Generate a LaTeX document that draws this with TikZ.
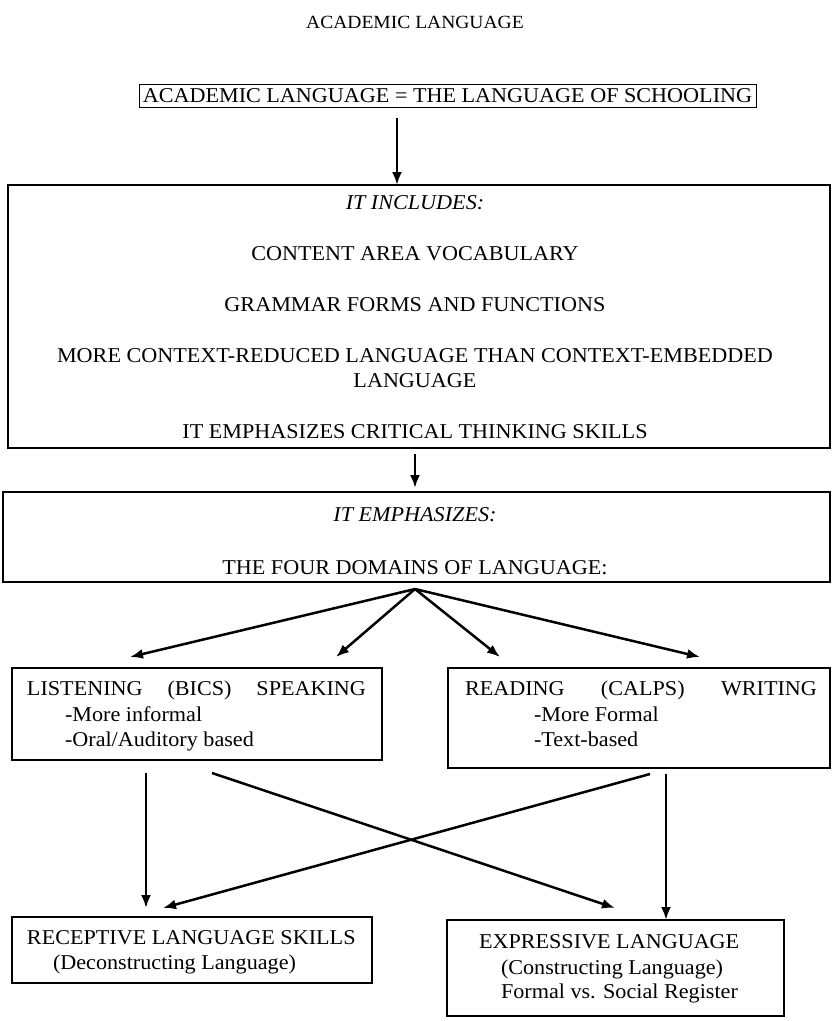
\documentclass[tikz,border=0pt]{standalone}
\usepackage{fontspec}
\setmainfont{Liberation Serif}[FakeStretch=1.05]
\usetikzlibrary{arrows.meta}
\begin{document}
\begin{tikzpicture}[x=1pt,y=-1pt,
  frame/.style={draw, line width=1.1pt, inner sep=0pt, outer sep=0pt, anchor=north west},
  lbl/.style={inner sep=0pt, outer sep=0pt, font=\fontsize{21.1}{25}\selectfont},
  arr/.style={line width=2.5pt, -{Latex[length=13pt,width=10pt]}}]
\useasboundingbox (0,0) rectangle (831,1021);
% title
\node[lbl, font=\fontsize{18.6}{22}\selectfont] (title) at (415,22) {ACADEMIC LANGUAGE};
% boxes
\node[frame, line width=0.9pt, minimum width=617pt, minimum height=23pt] (b1) at (139,84) {};
\node[frame, minimum width=822pt, minimum height=263pt] (b2) at (8,185) {};
\node[frame, minimum width=827pt, minimum height=90pt] (b3) at (3,492) {};
\node[frame, minimum width=370pt, minimum height=92pt] (b4) at (12,668) {};
\node[frame, minimum width=382pt, minimum height=100pt] (b5) at (448,668) {};
\node[frame, minimum width=360pt, minimum height=66pt] (b6) at (12,917) {};
\node[frame, minimum width=337pt, minimum height=96pt] (b7) at (447,920) {};
% box 1 text
\node[lbl] (t1) at (447.5,96) {ACADEMIC LANGUAGE = THE LANGUAGE OF SCHOOLING};
% box 2 text
\node[lbl] (t2a) at (415,203) {\itshape IT INCLUDES:};
\node[lbl] (t2b) at (415,254) {CONTENT AREA VOCABULARY};
\node[lbl] (t2c) at (415,305) {GRAMMAR FORMS AND FUNCTIONS};
\node[lbl] (t2d) at (415,356) {MORE CONTEXT-REDUCED LANGUAGE THAN CONTEXT-EMBEDDED};
\node[lbl] (t2e) at (415,381) {LANGUAGE};
\node[lbl] (t2f) at (415,432) {IT EMPHASIZES CRITICAL THINKING SKILLS};
% box 3 text
\node[lbl] (t3a) at (415,515) {\itshape IT EMPHASIZES:};
\node[lbl] (t3b) at (415,568) {THE FOUR DOMAINS OF LANGUAGE:};
% box 4 text
\node[lbl, anchor=base west] (t4a) at (27,695.8) {\makebox[339pt][l]{LISTENING\hfill(BICS)\hfill SPEAKING}};
\node[lbl, anchor=base west] (t4b) at (65,721.8) {-More informal};
\node[lbl, anchor=base west] (t4c) at (65,746.8) {-Oral/Auditory based};
% box 5 text
\node[lbl, anchor=base west] (t5a) at (465,695.8) {\makebox[352pt][l]{READING\hfill(CALPS)\hfill WRITING}};
\node[lbl, anchor=base west] (t5b) at (534,721.8) {-More Formal};
\node[lbl, anchor=base west] (t5c) at (534,746.8) {-Text-based};
% box 6 text
\node[lbl, anchor=base west] (t6a) at (27,944.8) {RECEPTIVE LANGUAGE SKILLS};
\node[lbl, anchor=base west] (t6b) at (53,969.8) {(Deconstructing Language)};
% box 7 text
\node[lbl, anchor=base west] (t7a) at (479,948.8) {EXPRESSIVE LANGUAGE};
\node[lbl, anchor=base west] (t7b) at (501,974.8) {(Constructing Language)};
\node[lbl, anchor=base west] (t7c) at (501,998.8) {Formal vs. Social Register};
% connector coordinates
\coordinate (a1s) at (397,118);
\coordinate (a2s) at (415,454);
\coordinate (a2e) at (415,488);
\coordinate (fan) at (415,589);
\coordinate (f1) at (130,657);
\coordinate (f2) at (336,657);
\coordinate (f3) at (500,657);
\coordinate (f4) at (700,657);
\coordinate (s1) at (146,773);
\coordinate (e1) at (146,908);
\coordinate (s2) at (212,773);
\coordinate (e2) at (615,908);
\coordinate (s3) at (650,774);
\coordinate (e3) at (163,908);
\coordinate (s4) at (666,774);
% connectors
\draw[arr] (a1s) -- (a1s |- b2.north);
\draw[arr] (a2s) -- (a2e);
\draw[arr] (fan) -- (f1);
\draw[arr] (fan) -- (f2);
\draw[arr] (fan) -- (f3);
\draw[arr] (fan) -- (f4);
\draw[arr] (s1) -- (e1);
\draw[arr] (s2) -- (e2);
\draw[arr] (s3) -- (e3);
\draw[arr] (s4) -- (s4 |- b7.north);
\end{tikzpicture}
\end{document}
